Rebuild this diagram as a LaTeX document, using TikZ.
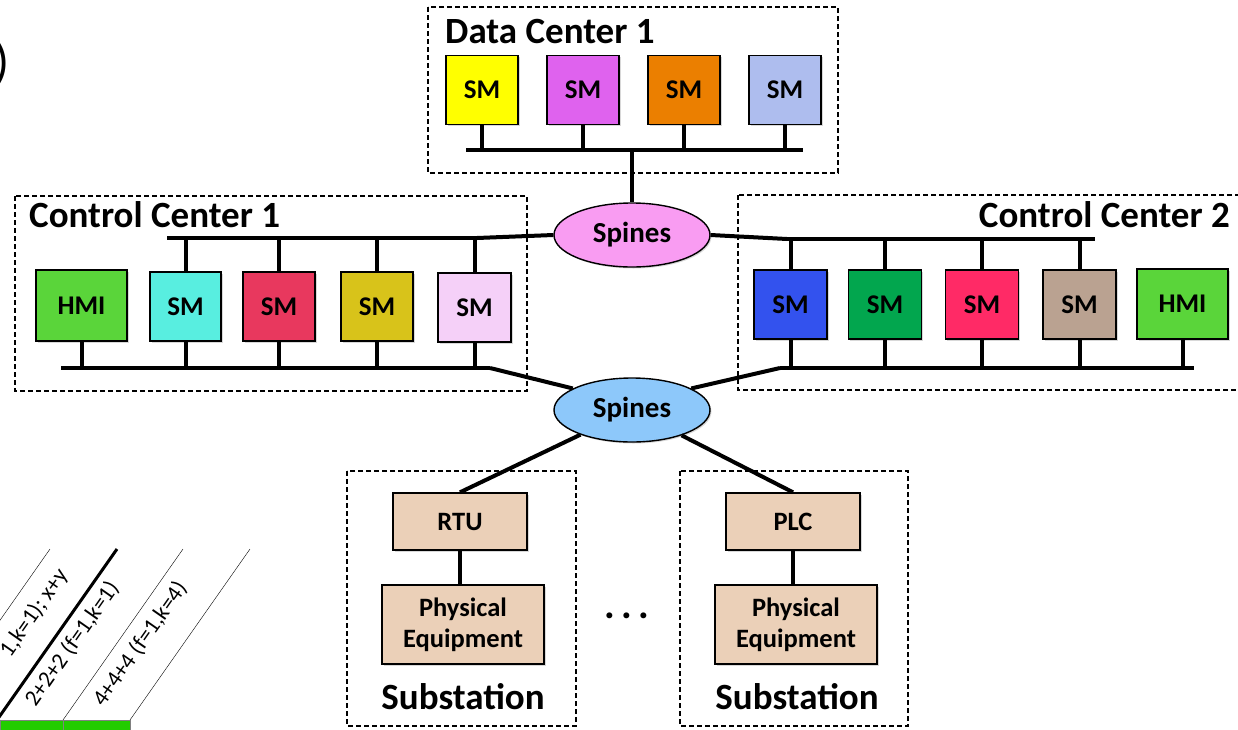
\documentclass[tikz,border=0pt]{standalone}
\usepackage{fontspec}
\setmainfont{Carlito}
\usetikzlibrary{positioning,shapes.geometric,shadows}
\definecolor{smyellow}{HTML}{FFFF00}
\definecolor{smmagenta}{HTML}{DF62EE}
\definecolor{smorange}{HTML}{EB7F00}
\definecolor{smlavender}{HTML}{AEBDEE}
\definecolor{hmigreen}{HTML}{5AD53A}
\definecolor{smcyan}{HTML}{58EEE0}
\definecolor{smcrimson}{HTML}{E8385E}
\definecolor{smolive}{HTML}{D8C31A}
\definecolor{smpink}{HTML}{F5D0F8}
\definecolor{smblue}{HTML}{3352EE}
\definecolor{smgreen}{HTML}{02A64E}
\definecolor{smrose}{HTML}{FF2A66}
\definecolor{smtaupe}{HTML}{BAA291}
\definecolor{spinepink}{HTML}{F99CF2}
\definecolor{spineblue}{HTML}{8DC8FA}
\definecolor{subtan}{HTML}{EBD0B8}
\definecolor{cellgreen}{HTML}{22CC00}

\begin{document}
\begin{tikzpicture}[x=1pt,y=-1pt,
  dev/.style={draw,line width=1.4pt,minimum width=72pt,minimum height=69pt,inner sep=0pt,
    font=\fontsize{27}{29}\selectfont\bfseries,
    drop shadow={shadow xshift=1.5pt,shadow yshift=-1.5pt,opacity=0.3}},
  spine/.style={draw,ellipse,line width=1.4pt,minimum width=156pt,minimum height=64pt,inner sep=0pt,
    font=\fontsize{29}{31}\selectfont\bfseries,
    drop shadow={shadow xshift=1.5pt,shadow yshift=-1.5pt,opacity=0.3}},
  field/.style={draw,line width=1.4pt,fill=subtan,inner sep=0pt,align=center,
    font=\fontsize{26.5}{31}\selectfont\bfseries,
    drop shadow={shadow xshift=1.5pt,shadow yshift=-1.5pt,opacity=0.3}},
  site/.style={draw,dashed,line width=1.6pt,dash pattern=on 5pt off 3pt},
  title/.style={font=\fontsize{37}{39}\selectfont\bfseries,inner sep=0pt},
  bus/.style={line width=4.5pt},
  wire/.style={line width=4pt},
  tag/.style={font=\fontsize{23}{25}\selectfont,rotate=55,inner sep=0pt}]
  \clip (0,0) rectangle (1238,729);
  \fill[white] (0,0) rectangle (1238,729);

  % cut-off pieces of the neighbouring figures
  \node[anchor=east,inner sep=0pt,font=\fontsize{50}{50}\selectfont] (paren) at (10,64) {)};
  \draw[thin] (50,549) -- (-70,720);
  \draw[line width=3pt] (117,549) -- (-3,720);
  \draw[thin] (183,549) -- (63,720);
  \draw[thin] (250,549) -- (130,720);
  \draw[gray,fill=cellgreen] (0,720) rectangle (63,735);
  \draw[gray,fill=cellgreen] (63,720) rectangle (130,735);
  \node[tag] (tagxy) at (34,613) {1,k=1); x+y};
  \node[tag] (tagtwo) at (72,644) {2+2+2 (f=1,k=1)};
  \node[tag] (tagfour) at (140,644) {4+4+4 (f=1,k=4)};

  % sites
  \draw[site] (428,7) rectangle (838,173);
  \draw[site] (15,196) rectangle (527,391);
  \draw[site] (738,195) rectangle (1250,390);
  \draw[site] (347,471) rectangle (576,726);
  \draw[site] (680,471) rectangle (908,726);
  \node[title,anchor=base west] (dctitle) at (445,43) {Data Center 1};
  \node[title,anchor=base west] (cconetitle) at (29,227) {Control Center 1};
  \node[title,anchor=base east] (cctwotitle) at (1230,227) {Control Center 2};
  \node[title,anchor=base] (subonetitle) at (463,709) {Substation};
  \node[title,anchor=base] (subtwotitle) at (797,709) {Substation};

  % Data Center 1
  \node[dev,fill=smyellow] (dsm1) at (482,90) {SM};
  \node[dev,fill=smmagenta] (dsm2) at (583,90) {SM};
  \node[dev,fill=smorange] (dsm3) at (684,90) {SM};
  \node[dev,fill=smlavender] (dsm4) at (785,90) {SM};
  \coordinate (dbusl) at (466,150);
  \coordinate (dbusr) at (803,150);
  \coordinate (dbusm) at (632,150);
  \draw[bus] (dbusl) -- (dbusr);
  \foreach \n in {dsm1,dsm2,dsm3,dsm4}
    \draw[wire] (\n.south) -- (\n.south |- dbusl);

  % spines
  \node[spine,fill=spinepink] (spinetop) at (632,235) {Spines};
  \node[spine,fill=spineblue] (spinelow) at (632,410) {Spines};
  \draw[wire] (dbusm) -- (spinetop.north);

  % Control Center 1
  \node[dev,fill=hmigreen,minimum width=91pt,minimum height=71pt] (chmi1) at (81.5,305.5) {HMI};
  \node[dev,fill=smcyan,minimum width=71pt] (csm1) at (185.5,306.5) {SM};
  \node[dev,fill=smcrimson,minimum width=72pt] (csm2) at (279,306.5) {SM};
  \node[dev,fill=smolive,minimum width=72pt] (csm3) at (377,306.5) {SM};
  \node[dev,fill=smpink,minimum width=73pt] (csm4) at (474.5,307.5) {SM};
  \coordinate (ctopl) at (167,238);
  \coordinate (ctopr) at (477,238);
  \coordinate (clowl) at (61,368);
  \coordinate (clowr) at (490,368);
  \draw[bus] (ctopl) -- (ctopr);
  \draw[bus] (clowl) -- (clowr);
  \foreach \n in {csm1,csm2,csm3,csm4}
    \draw[wire] (\n.north) -- (\n.north |- ctopl);
  \foreach \n in {chmi1,csm1,csm2,csm3,csm4}
    \draw[wire] (\n.south) -- (\n.south |- clowl);
  \draw[wire] (ctopr) -- (spinetop.west);
  \draw[wire] (clowr) -- (spinelow.160);

  % Control Center 2
  \node[dev,fill=smblue,minimum width=73pt] (ksm1) at (790.5,304.5) {SM};
  \node[dev,fill=smgreen,minimum width=73pt] (ksm2) at (885,304.5) {SM};
  \node[dev,fill=smrose,minimum width=73pt] (ksm3) at (982,304.5) {SM};
  \node[dev,fill=smtaupe,minimum width=73pt] (ksm4) at (1079.5,304.5) {SM};
  \node[dev,fill=hmigreen,minimum width=91pt,minimum height=70pt] (khmi2) at (1182.5,304) {HMI};
  \coordinate (ktopl) at (787,239);
  \coordinate (ktopr) at (1095,239);
  \coordinate (klowl) at (780,368);
  \coordinate (klowr) at (1194,368);
  \draw[bus] (ktopl) -- (ktopr);
  \draw[bus] (klowl) -- (klowr);
  \foreach \n in {ksm1,ksm2,ksm3,ksm4}
    \draw[wire] (\n.north) -- (\n.north |- ktopl);
  \foreach \n in {ksm1,ksm2,ksm3,ksm4,khmi2}
    \draw[wire] (\n.south) -- (\n.south |- klowl);
  \draw[wire] (spinetop.east) -- (ktopl);
  \draw[wire] (spinelow.20) -- (klowl);

  % substations
  \node[field,minimum width=134pt,minimum height=57pt] (rtu) at (460,521.5) {RTU};
  \node[field,minimum width=162pt,minimum height=79pt] (equipa) at (463,624.5) {Physical\\Equipment};
  \node[field,minimum width=134pt,minimum height=57pt] (plc) at (793,521.5) {PLC};
  \node[field,minimum width=162pt,minimum height=79pt] (equipb) at (796,624.5) {Physical\\Equipment};
  \draw[wire] (rtu) -- (rtu |- equipa.north);
  \draw[wire] (plc) -- (plc |- equipb.north);
  \draw[wire] (spinelow) -- (rtu.north);
  \draw[wire] (spinelow) -- (plc.north);
  \node[anchor=base,inner sep=0pt,font=\fontsize{40}{42}\selectfont\bfseries] (more) at (627,618) {.\kern6pt.\kern6pt.};
\end{tikzpicture}
\end{document}
